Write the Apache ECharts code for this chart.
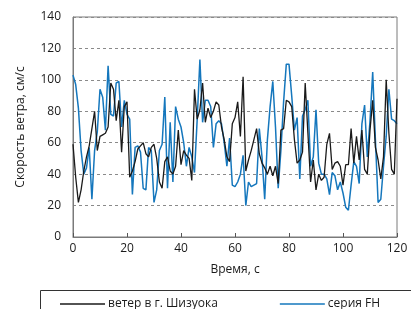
<!DOCTYPE html>
<html>
<head>
<meta charset="utf-8">
<script src="https://cdn.jsdelivr.net/npm/echarts@6/dist/echarts.min.js"></script>
<style>
  html, body { margin: 0; padding: 0; background: #fff; }
  #chart { width: 411px; height: 309px; }
</style>
</head>
<body>
<div id="chart"></div>
<script>
// one reading per second, t = 0..120
const shizuoka = [
    59, 38, 22, 30, 42, 51, 58, 69, 80, 55,
    64, 65, 66, 70, 98, 94, 74, 87, 54, 83,
    86, 38, 42, 48, 56, 58, 60, 53, 51, 57,
    59, 50, 35, 31, 48, 51, 42, 40, 45, 68,
    46, 55, 52, 50, 36, 94, 75, 81, 98, 73,
    82, 76, 80, 86, 84, 70, 62, 51, 48, 72,
    76, 86, 64, 102, 42, 49, 55, 62, 69, 53,
    47, 44, 40, 45, 39, 45, 34, 68, 69, 87,
    86, 83, 62, 47, 49, 54, 98, 66, 35, 49,
    30, 40, 36, 38, 59, 66, 43, 47, 48, 45,
    33, 46, 46, 69, 47, 64, 49, 68, 43, 40,
    68, 87, 57, 49, 37, 51, 100, 66, 43, 40,
    88,
];
const seriesFH = [
    103, 97, 82, 55, 40, 44, 57, 24, 55, 67,
    94, 89, 68, 109, 78, 77, 98, 99, 70, 87,
    78, 75, 27, 57, 58, 54, 31, 30, 57, 55,
    22, 30, 55, 59, 89, 31, 73, 35, 83, 75,
    70, 60, 45, 57, 51, 41, 75, 113, 73, 87,
    87, 83, 57, 72, 74, 72, 60, 45, 63, 33,
    32, 35, 40, 52, 20, 35, 32, 33, 34, 69,
    51, 24, 62, 83, 99, 70, 31, 55, 86, 110,
    110, 90, 68, 76, 37, 77, 81, 87, 45, 51,
    81, 47, 40, 40, 37, 27, 41, 39, 30, 35,
    28, 19, 17, 33, 48, 45, 34, 72, 84, 51,
    74, 105, 62, 22, 24, 45, 64, 94, 75, 74,
    72,
];
const seriesNames = ["ветер в г. Шизуока", "серия FH"];
const xTicks = [0, 20, 40, 60, 80, 100, 120];
const yTicks = [0, 20, 40, 60, 80, 100, 120, 140];

const FONT = "'Open Sans', 'Noto Sans', sans-serif";
const toPairs = (vals) => vals.map((v, i) => [i, v]);

const chart = echarts.init(document.getElementById("chart"), null, { renderer: "canvas" });

chart.setOption({
    animation: false,
    backgroundColor: "#fff",
    textStyle: { fontFamily: FONT },
    grid: {
        left: 73, right: 14, top: 17, bottom: 72,
        show: true, borderColor: "#7a7a7a", borderWidth: 1,
    },
    xAxis: {
        type: "value",
        min: xTicks[0], max: xTicks[xTicks.length - 1], interval: 20,
        name: "Время, с",
        nameLocation: "middle", nameGap: 27,
        nameTextStyle: { fontSize: 12, color: "#1a1a1a", fontFamily: FONT },
        axisLine: { lineStyle: { color: "#7a7a7a" } },
        axisTick: { inside: true, length: 4, lineStyle: { color: "#555" } },
        axisLabel: { fontSize: 12, color: "#1a1a1a", margin: 6, fontFamily: FONT },
        splitLine: { show: false },
    },
    yAxis: {
        type: "value",
        min: yTicks[0], max: yTicks[yTicks.length - 1], interval: 20,
        name: "Скорость ветра, см/с",
        nameLocation: "middle", nameGap: 46,
        nameTextStyle: { fontSize: 12, color: "#1a1a1a", fontFamily: FONT },
        axisLine: { show: true, lineStyle: { color: "#7a7a7a" } },
        axisTick: { show: false },
        axisLabel: { fontSize: 12, color: "#1a1a1a", margin: 12, fontFamily: FONT },
        splitLine: { show: true, lineStyle: { color: "#8a8a8a", type: [3, 3], width: 1 } },
    },
    legend: {
        left: 55, top: 293,
        icon: "rect",
        itemWidth: 45, itemHeight: 1.5, itemGap: 62,
        textStyle: { fontSize: 12, color: "#1a1a1a", fontFamily: FONT, padding: [0, 0, 0, -2] },
        data: seriesNames,
    },
    graphic: [{
        type: "rect",
        shape: { x: 40.5, y: 290.5, width: 400, height: 40 },
        style: { fill: "none", stroke: "#333", lineWidth: 1 },
        silent: true,
    }],
    series: [
        {
            name: seriesNames[0], type: "line", symbol: "none",
            data: toPairs(shizuoka),
            lineStyle: { color: "#1a1a1a", width: 1.3 },
            itemStyle: { color: "#1a1a1a" },
            z: 3,
        },
        {
            name: seriesNames[1], type: "line", symbol: "none",
            data: toPairs(seriesFH),
            lineStyle: { color: "#1577bd", width: 1.5 },
            itemStyle: { color: "#1577bd" },
            z: 2,
        },
    ],
});
</script>
</body>
</html>
